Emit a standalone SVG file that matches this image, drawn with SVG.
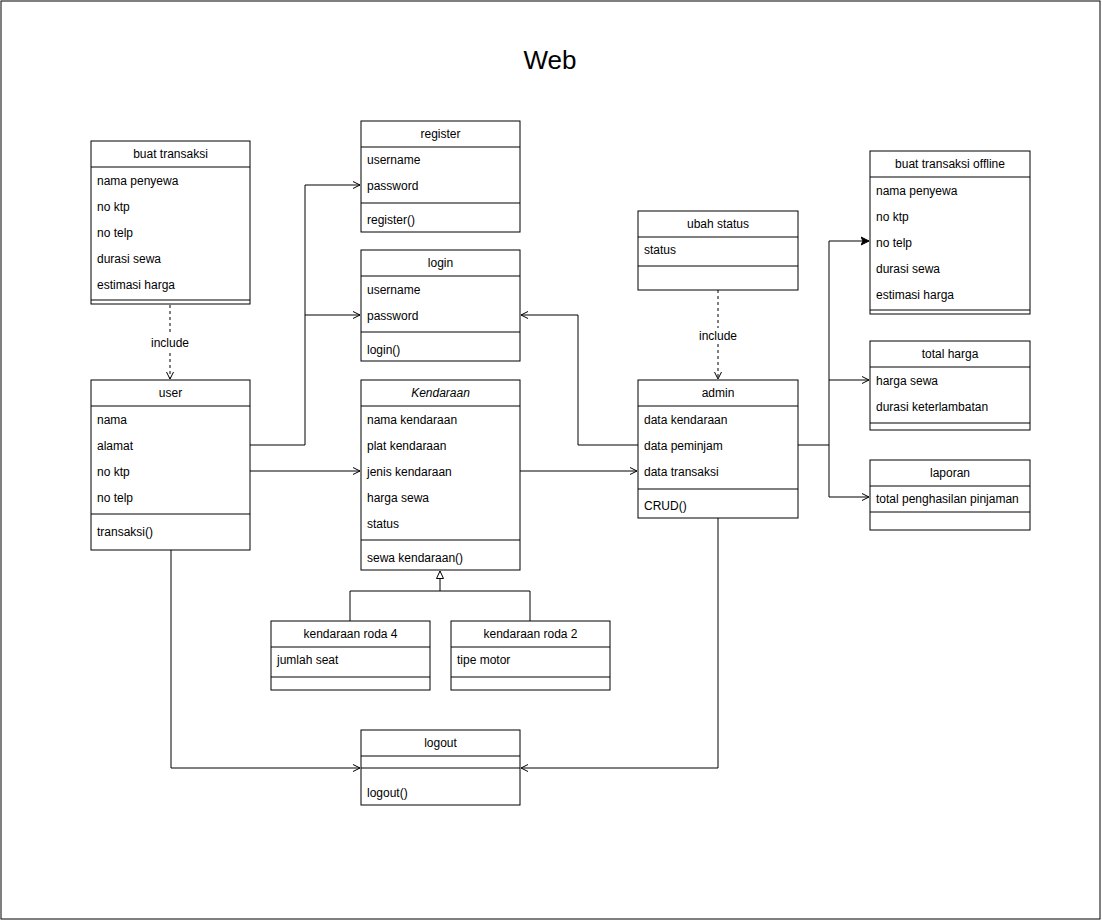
<svg xmlns="http://www.w3.org/2000/svg" width="1102" height="921" viewBox="0 0 1102 921">
<style>
.box{fill:#fff;stroke:#000;stroke-width:1}
.ln{stroke:#000;stroke-width:1;fill:none}
.t{font-family:"Liberation Sans",Arial,sans-serif;font-size:12px;fill:#000}
.c{text-anchor:middle}
.e{stroke:#000;stroke-width:1;fill:none}
.d{stroke-dasharray:3,3}
</style>
<defs>
<marker id="open" markerUnits="userSpaceOnUse" markerWidth="10" markerHeight="10" refX="8" refY="4" orient="auto" viewBox="0 0 10 8">
<path d="M1,0.5 L8,4 L1,7.5" fill="none" stroke="#000" stroke-width="1"/>
</marker>
<marker id="block" markerUnits="userSpaceOnUse" markerWidth="10" markerHeight="10" refX="8" refY="4" orient="auto" viewBox="0 0 10 8">
<path d="M0,0 L8,4 L0,8 L2,4 Z" fill="#000" stroke="#000" stroke-width="1"/>
</marker>
<marker id="tri" markerUnits="userSpaceOnUse" markerWidth="10" markerHeight="10" refX="8" refY="4" orient="auto" viewBox="0 0 10 8">
<path d="M0.5,0.5 L8,4 L0.5,7.5 Z" fill="#fff" stroke="#000" stroke-width="1"/>
</marker>
</defs>
<rect x="0" y="0" width="1102" height="921" fill="#fff"/>
<rect x="1" y="1" width="1099" height="918" fill="none" stroke="#000" stroke-width="1"/>
<text x="550" y="69" class="t c" style="font-size:26px">Web</text>

<g id="connectors">
<path class="e" d="M250,445 H305 V185 H360" marker-end="url(#open)"/>
<path class="e" d="M305,315 H360" marker-end="url(#open)"/>
<path class="e" d="M250,471 H360" marker-end="url(#open)"/>
<path class="e" d="M520,471 H637" marker-end="url(#open)"/>
<path class="e" d="M638,445 H578 V315 H521" marker-end="url(#open)"/>
<path class="e" d="M798,445 H829 V241 H869" marker-end="url(#block)"/>
<path class="e" d="M829,380 H869" marker-end="url(#open)"/>
<path class="e" d="M829,445 V497 H869" marker-end="url(#open)"/>
<path class="e" d="M171,550 V768 H360" marker-end="url(#open)"/>
<path class="e" d="M718,518 V768 H521" marker-end="url(#open)"/>
<path class="e" d="M350,621 V591 H530 V621"/>
<path class="e" d="M440,591 V571" marker-end="url(#tri)"/>
<path class="e d" d="M170,305 V379" marker-end="url(#open)"/>
<rect x="148" y="335" width="44" height="15" fill="#fff"/>
<text x="170" y="347" class="t c">include</text>
<path class="e d" d="M718,290 V379" marker-end="url(#open)"/>
<rect x="696" y="328" width="44" height="15" fill="#fff"/>
<text x="718" y="340" class="t c">include</text>
</g>

<g id="buat-transaksi">
<rect class="box" x="91" y="141" width="159" height="163"/>
<line class="ln" x1="91" y1="167" x2="250" y2="167"/>
<line class="ln" x1="91" y1="300" x2="250" y2="300"/>
<text x="170.5" y="158" class="t c">buat transaksi</text>
<text x="97" y="185" class="t">nama penyewa</text>
<text x="97" y="211" class="t">no ktp</text>
<text x="97" y="237" class="t">no telp</text>
<text x="97" y="263" class="t">durasi sewa</text>
<text x="97" y="289" class="t">estimasi harga</text>
</g>

<g id="user">
<rect class="box" x="91" y="380" width="159" height="170"/>
<line class="ln" x1="91" y1="406" x2="250" y2="406"/>
<line class="ln" x1="91" y1="514" x2="250" y2="514"/>
<text x="170.5" y="397" class="t c">user</text>
<text x="97" y="424" class="t">nama</text>
<text x="97" y="450" class="t">alamat</text>
<text x="97" y="476" class="t">no ktp</text>
<text x="97" y="502" class="t">no telp</text>
<text x="97" y="536" class="t">transaksi()</text>
</g>

<g id="register">
<rect class="box" x="361" y="121" width="159" height="111"/>
<line class="ln" x1="361" y1="147" x2="520" y2="147"/>
<line class="ln" x1="361" y1="203" x2="520" y2="203"/>
<text x="440.5" y="138" class="t c">register</text>
<text x="367" y="164" class="t">username</text>
<text x="367" y="190" class="t">password</text>
<text x="367" y="224" class="t">register()</text>
</g>

<g id="login">
<rect class="box" x="361" y="250" width="159" height="111"/>
<line class="ln" x1="361" y1="276" x2="520" y2="276"/>
<line class="ln" x1="361" y1="332" x2="520" y2="332"/>
<text x="440.5" y="267" class="t c">login</text>
<text x="367" y="294" class="t">username</text>
<text x="367" y="320" class="t">password</text>
<text x="367" y="354" class="t">login()</text>
</g>

<g id="kendaraan">
<rect class="box" x="361" y="380" width="159" height="190"/>
<line class="ln" x1="361" y1="406" x2="520" y2="406"/>
<line class="ln" x1="361" y1="540" x2="520" y2="540"/>
<text x="440.5" y="397" class="t c" font-style="italic">Kendaraan</text>
<text x="367" y="424" class="t">nama kendaraan</text>
<text x="367" y="450" class="t">plat kendaraan</text>
<text x="367" y="476" class="t">jenis kendaraan</text>
<text x="367" y="502" class="t">harga sewa</text>
<text x="367" y="528" class="t">status</text>
<text x="367" y="562" class="t">sewa kendaraan()</text>
</g>

<g id="roda4">
<rect class="box" x="271" y="621" width="159" height="69"/>
<line class="ln" x1="271" y1="647" x2="430" y2="647"/>
<line class="ln" x1="271" y1="677" x2="430" y2="677"/>
<text x="350.5" y="638" class="t c">kendaraan roda 4</text>
<text x="277" y="664" class="t">jumlah seat</text>
</g>

<g id="roda2">
<rect class="box" x="451" y="621" width="159" height="69"/>
<line class="ln" x1="451" y1="647" x2="610" y2="647"/>
<line class="ln" x1="451" y1="677" x2="610" y2="677"/>
<text x="530.5" y="638" class="t c">kendaraan roda 2</text>
<text x="457" y="664" class="t">tipe motor</text>
</g>

<g id="logout">
<rect class="box" x="361" y="730" width="159" height="75"/>
<line class="ln" x1="361" y1="756" x2="520" y2="756"/>
<line class="ln" x1="361" y1="768" x2="520" y2="768"/>
<text x="440.5" y="747" class="t c">logout</text>
<text x="367" y="797" class="t">logout()</text>
</g>

<g id="ubah-status">
<rect class="box" x="638" y="211" width="160" height="79"/>
<line class="ln" x1="638" y1="237" x2="798" y2="237"/>
<line class="ln" x1="638" y1="266" x2="798" y2="266"/>
<text x="718" y="228" class="t c">ubah status</text>
<text x="644" y="254" class="t">status</text>
</g>

<g id="admin">
<rect class="box" x="638" y="380" width="160" height="138"/>
<line class="ln" x1="638" y1="406" x2="798" y2="406"/>
<line class="ln" x1="638" y1="489" x2="798" y2="489"/>
<text x="718" y="397" class="t c">admin</text>
<text x="644" y="424" class="t">data kendaraan</text>
<text x="644" y="450" class="t">data peminjam</text>
<text x="644" y="476" class="t">data transaksi</text>
<text x="644" y="510" class="t">CRUD()</text>
</g>

<g id="buat-transaksi-offline">
<rect class="box" x="870" y="151" width="160" height="163"/>
<line class="ln" x1="870" y1="177" x2="1030" y2="177"/>
<line class="ln" x1="870" y1="310" x2="1030" y2="310"/>
<text x="950" y="168" class="t c">buat transaksi offline</text>
<text x="876" y="195" class="t">nama penyewa</text>
<text x="876" y="221" class="t">no ktp</text>
<text x="876" y="247" class="t">no telp</text>
<text x="876" y="273" class="t">durasi sewa</text>
<text x="876" y="299" class="t">estimasi harga</text>
</g>

<g id="total-harga">
<rect class="box" x="870" y="341" width="160" height="89"/>
<line class="ln" x1="870" y1="367" x2="1030" y2="367"/>
<line class="ln" x1="870" y1="423" x2="1030" y2="423"/>
<text x="950" y="358" class="t c">total harga</text>
<text x="876" y="385" class="t">harga sewa</text>
<text x="876" y="411" class="t">durasi keterlambatan</text>
</g>

<g id="laporan">
<rect class="box" x="870" y="460" width="160" height="70"/>
<line class="ln" x1="870" y1="486" x2="1030" y2="486"/>
<line class="ln" x1="870" y1="512" x2="1030" y2="512"/>
<text x="950" y="477" class="t c">laporan</text>
<text x="876" y="503" class="t">total penghasilan pinjaman</text>
</g>
</svg>
